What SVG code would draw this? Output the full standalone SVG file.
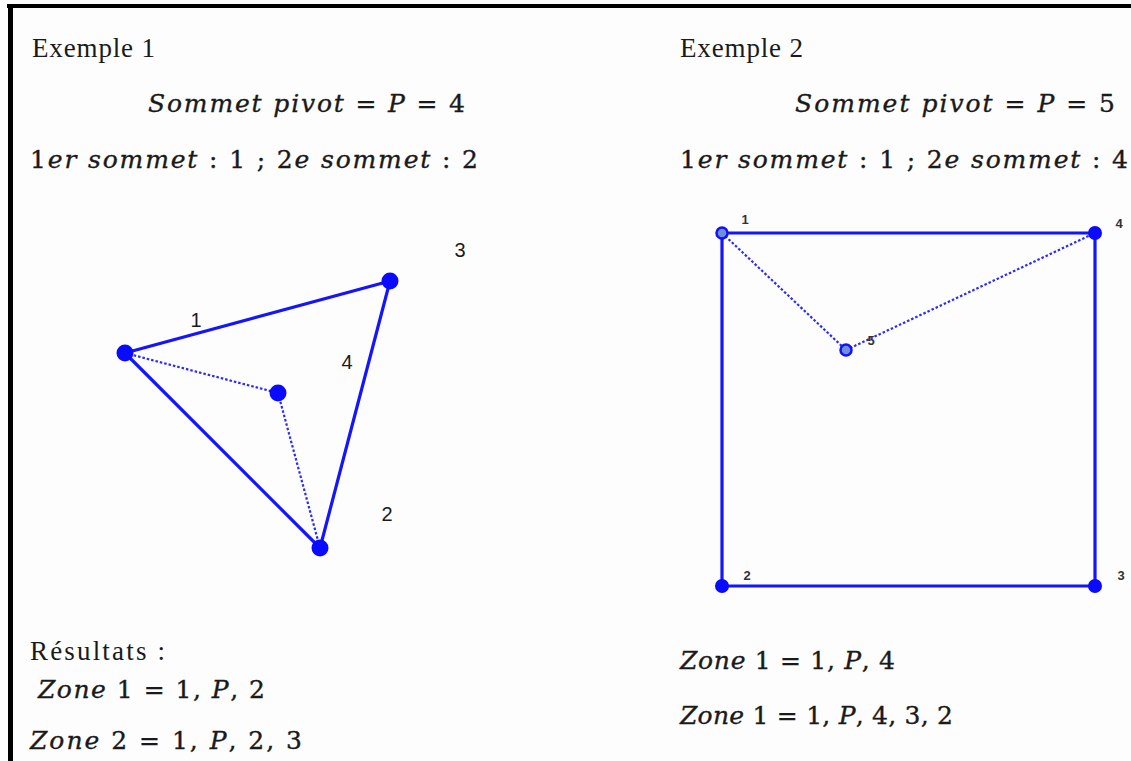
<svg xmlns="http://www.w3.org/2000/svg" width="1131" height="761" viewBox="0 0 1131 761">
<style>
.bg{fill:#fdfdfd}
.frame{fill:#000}
.title{font-family:"Liberation Serif","Times New Roman",serif;font-size:27px;fill:#1a1a1a}
.math{font-family:"DejaVu Serif","Liberation Serif",serif;font-size:25px;fill:#1a1a1a;stroke:#1a1a1a;stroke-width:0.35}
.it{font-style:italic}
.edge{stroke:#1414ff;stroke-width:3.2;fill:none;stroke-linecap:round}
.dot{stroke:#2a2aff;stroke-width:2.2;fill:none;stroke-dasharray:2.5 2}
.nodeF{fill:#0a0aff}
.nodeH{fill:#6f8fd8;stroke:#1010ff;stroke-width:2.5}
.lblL{font-family:"Liberation Sans",Arial,sans-serif;font-size:20px;fill:#1a1a1a}
.lblS{font-family:"Liberation Sans",Arial,sans-serif;font-size:13px;font-weight:bold;fill:#333}
</style>
<rect class="bg" x="0" y="0" width="1131" height="761"/>
<rect class="frame" x="7" y="4" width="1124" height="4"/>
<rect class="frame" x="8" y="4" width="5" height="757"/>

<g id="texts-left">
<text class="title" x="32" y="57" textLength="123">Exemple 1</text>
<text class="math" x="148" y="112" textLength="317"><tspan class="it">Sommet pivot</tspan> = <tspan class="it">P</tspan> = 4</text>
<text class="math" x="30" y="168" textLength="448">1<tspan class="it">er sommet</tspan> : 1 ;  2<tspan class="it">e sommet</tspan> : 2</text>
<text class="title" x="30" y="660" textLength="135">Résultats :</text>
<text class="math" x="38" y="698" textLength="227"><tspan class="it">Zone</tspan> 1 = 1, <tspan class="it">P</tspan>, 2</text>
<text class="math" x="30" y="749" textLength="272"><tspan class="it">Zone</tspan> 2 = 1, <tspan class="it">P</tspan>, 2, 3</text>
</g>

<g id="texts-right">
<text class="title" x="680" y="57" textLength="123">Exemple 2</text>
<text class="math" x="795" y="112" textLength="320"><tspan class="it">Sommet pivot</tspan> = <tspan class="it">P</tspan> = 5</text>
<text class="math" x="680" y="168" textLength="448">1<tspan class="it">er sommet</tspan> : 1 ;  2<tspan class="it">e sommet</tspan> : 4</text>
<text class="math" x="680" y="669" textLength="215"><tspan class="it">Zone</tspan> 1 = 1, <tspan class="it">P</tspan>, 4</text>
<text class="math" x="680" y="724" textLength="273"><tspan class="it">Zone</tspan> 1 = 1, <tspan class="it">P</tspan>, 4, 3, 2</text>
</g>

<g id="connectors">
<line class="edge" x1="125" y1="353" x2="390" y2="281"/>
<line class="edge" x1="390" y1="281" x2="320" y2="548"/>
<line class="edge" x1="125" y1="353" x2="320" y2="548"/>
<line class="dot" x1="125" y1="353" x2="278" y2="393"/>
<line class="dot" x1="278" y1="393" x2="320" y2="548"/>
<line class="edge" x1="722" y1="233" x2="1095" y2="233"/>
<line class="edge" x1="1095" y1="233" x2="1095" y2="586"/>
<line class="edge" x1="1095" y1="586" x2="722" y2="586"/>
<line class="edge" x1="722" y1="586" x2="722" y2="233"/>
<line class="dot" x1="722" y1="233" x2="846" y2="350"/>
<line class="dot" x1="846" y1="350" x2="1095" y2="233"/>
</g>

<g id="ex1-node-1"><circle class="nodeF" cx="125" cy="353" r="8.5"/><text class="lblL" x="196" y="327" text-anchor="middle">1</text></g>
<g id="ex1-node-3"><circle class="nodeF" cx="390" cy="281" r="8.5"/><text class="lblL" x="460" y="257" text-anchor="middle">3</text></g>
<g id="ex1-node-2"><circle class="nodeF" cx="320" cy="548" r="8.5"/><text class="lblL" x="387" y="521" text-anchor="middle">2</text></g>
<g id="ex1-node-4"><circle class="nodeF" cx="278" cy="393" r="8.5"/><text class="lblL" x="347" y="369" text-anchor="middle">4</text></g>

<g id="ex2-node-1"><circle class="nodeH" cx="722" cy="233" r="5.5"/><text class="lblS" x="745" y="224" text-anchor="middle">1</text></g>
<g id="ex2-node-4"><circle class="nodeF" cx="1095" cy="233" r="7"/><text class="lblS" x="1119" y="228" text-anchor="middle">4</text></g>
<g id="ex2-node-5"><circle class="nodeH" cx="846" cy="350" r="5.5"/><text class="lblS" x="871" y="345" text-anchor="middle">5</text></g>
<g id="ex2-node-2"><circle class="nodeF" cx="722" cy="586" r="7"/><text class="lblS" x="747" y="580" text-anchor="middle">2</text></g>
<g id="ex2-node-3"><circle class="nodeF" cx="1095" cy="586" r="7"/><text class="lblS" x="1121" y="580" text-anchor="middle">3</text></g>
</svg>
